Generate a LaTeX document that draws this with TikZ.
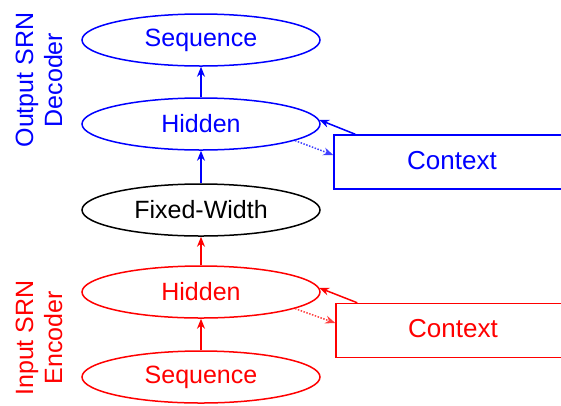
\documentclass[tikz,border=0pt]{standalone}
\usepackage{fontspec}
\setmainfont{Liberation Sans}
\usetikzlibrary{arrows.meta,shapes.geometric}
\begin{document}
\begin{tikzpicture}[x=1pt,y=-1pt,
  lbl/.style={font=\fontsize{25}{29}\selectfont},
  state/.style={ellipse, draw, line width=1.5pt, minimum width=238pt,
    minimum height=52pt, inner sep=0pt, lbl},
  ctx/.style={rectangle, draw, line width=1.5pt, minimum height=54pt,
    inner sep=0pt, font=\fontsize{26}{30}\selectfont},
  flow/.style={-{Stealth[length=10pt,width=8pt]}, line width=1.5pt},
  feed/.style={-{Stealth[length=10pt,width=8pt]}, line width=1.5pt,
    dash pattern=on 1.5pt off 1.5pt},
  side/.style={rotate=90, align=center, lbl}
]
\useasboundingbox (0,0) rectangle (561,405);
\clip (0,0) rectangle (561,405);

% decoder half
\node[state, blue] (seqO) at (201,40)  {Sequence};
\node[state, blue] (hidO) at (201,124) {Hidden};
\node[ctx, blue, minimum width=236pt] (ctxO) at (452,162) {\raisebox{4pt}{Context}};

% bottleneck
\node[state, black] (fixed) at (201,210) {Fixed-Width};

% encoder half
\node[state, red] (hidI) at (201,292) {Hidden};
\node[state, red] (seqI) at (201,377) {Sequence};
\node[ctx, red, minimum width=234pt] (ctxI) at (453,330.5) {\raisebox{4pt}{Context}};

% side captions
\node[side, blue] (lblO) at (39,80)  {Output SRN\\Decoder};
\node[side, red]  (lblI) at (39,338) {Input SRN\\Encoder};

% forward flow
\draw[flow, red]  (seqI) -- (hidI);
\draw[flow, red]  (hidI) -- (fixed);
\draw[flow, blue] (fixed) -- (hidO);
\draw[flow, blue] (hidO) -- (seqO);

% recurrent context loops
\draw[flow, blue] ([xshift=22pt]ctxO.north west) -- (hidO.2);
\draw[feed, blue!75] (hidO.-10) -- ([yshift=7pt]ctxO.west);
\draw[flow, red] ([xshift=22pt]ctxI.north west) -- (hidI.2);
\draw[feed, red!75] (hidI.-10) -- ([yshift=7.5pt]ctxI.west);
\end{tikzpicture}
\end{document}
